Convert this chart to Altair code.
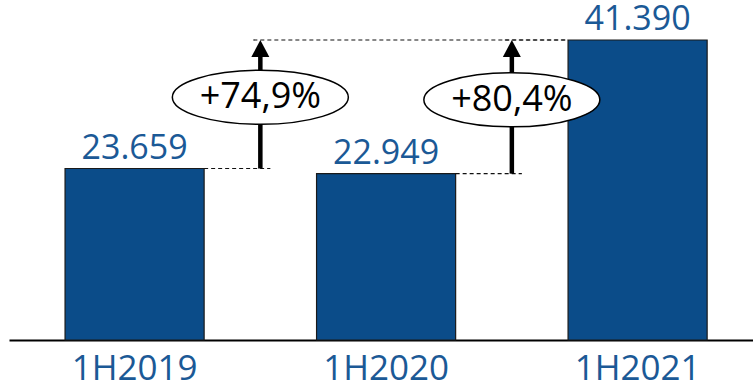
import altair as alt
import pandas as pd

categories = ["1H2019", "1H2020", "1H2021"]
values = [23659, 22949, 41390]
value_labels = ["23.659", "22.949", "41.390"]
growth_labels = ["+74,9%", "+80,4%"]

BAR = "#0B4C89"
TXT = "#1B5996"
FONT = "Open Sans"

bars_df = pd.DataFrame({"cat": categories, "value": values, "label": value_labels})
n = len(categories)
ann_df = pd.DataFrame({
    "from": categories[:-1],
    "to": [categories[-1]] * (n - 1),
    "v_from": values[:-1],
    "v_to": [values[-1]] * (n - 1),
    "growth": growth_labels,
})

HALF_BAND = 69.55
HALF_STEP = 125.75

xscale = alt.Scale(domain=categories, paddingInner=0.447, paddingOuter=0.2026, align=0.55)
yscale = alt.Scale(domain=[0, 46908], nice=False, zero=True)
xaxis = alt.Axis(title=None, labelAngle=0, labelFontSize=35, labelFont=FONT, labelColor=TXT,
                 labelPadding=11, ticks=False, domainColor="#000000", domainWidth=2, grid=False)


def X(field):
    return alt.X(f"{field}:N", scale=xscale, axis=xaxis, sort=categories)


def Y(field):
    return alt.Y(f"{field}:Q", scale=yscale, axis=None)


k = 0.5523
r = 27 / 88
ELLIPSE = (f"M -1 0 C -1 {-r*k:.4f} {-k} {-r:.4f} 0 {-r:.4f} "
           f"C {k} {-r:.4f} 1 {-r*k:.4f} 1 0 "
           f"C 1 {r*k:.4f} {k} {r:.4f} 0 {r:.4f} "
           f"C {-k} {r:.4f} -1 {r*k:.4f} -1 0 Z")
ARROW = "M 0 -0.95 L 1 0.95 L -1 0.95 Z"

bars = alt.Chart(bars_df).mark_bar(fill=BAR, stroke="#1a1a1a", strokeWidth=1.2).encode(
    x=X("cat"), y=Y("value"))

vals = alt.Chart(bars_df).mark_text(dy=-10, baseline="alphabetic", fontSize=34, font=FONT,
                                    color=TXT).encode(x=X("cat"), y=Y("value"), text="label:N")

lower = alt.Chart(ann_df).mark_rule(strokeDash=[4, 3], strokeWidth=1.2, color="#111111",
                                    xOffset=HALF_BAND, x2Offset=HALF_STEP + 10).encode(
    x=X("from"), x2=alt.X2("from"), y=Y("v_from"))

upper = alt.Chart(ann_df).mark_rule(strokeDash=[4, 3], strokeWidth=1.2, color="#111111",
                                    xOffset=HALF_STEP - 7, x2Offset=-HALF_BAND).encode(
    x=X("from"), x2=alt.X2("to"), y=Y("v_to"))

shaft = alt.Chart(ann_df).mark_rule(strokeWidth=4.5, color="black", xOffset=HALF_STEP,
                                    y2Offset=12).encode(
    x=X("from"), y=Y("v_from"), y2=alt.Y2("v_to"))

ellipse = alt.Chart(ann_df).transform_calculate(
    mid="(datum.v_from + datum.v_to) / 2"
).mark_point(shape=ELLIPSE, size=30976, filled=True, fill="white", stroke="black",
             strokeWidth=1.5, opacity=1, fillOpacity=1, strokeOpacity=1,
             xOffset=HALF_STEP, yOffset=-7).encode(x=X("from"), y=Y("mid"))

growth = alt.Chart(ann_df).transform_calculate(
    mid="(datum.v_from + datum.v_to) / 2"
).mark_text(fontSize=36, font=FONT, color="black", baseline="middle",
            xOffset=HALF_STEP, yOffset=-7).encode(x=X("from"), y=Y("mid"), text="growth:N")

head = alt.Chart(ann_df).mark_point(shape=ARROW, size=324, filled=True, color="black",
                                    opacity=1, xOffset=HALF_STEP, yOffset=8.5).encode(
    x=X("from"), y=Y("v_to"))

chart = alt.layer(bars, vals, lower, upper, shaft, ellipse, growth, head).properties(
    width=744, height=340,
    padding={"left": 9, "top": 0, "right": 0, "bottom": 50},
    autosize=alt.AutoSizeParams(type="none"),
).configure_view(stroke=None)

chart.save("out.html", embed_options={"renderer": "svg", "actions": False})
